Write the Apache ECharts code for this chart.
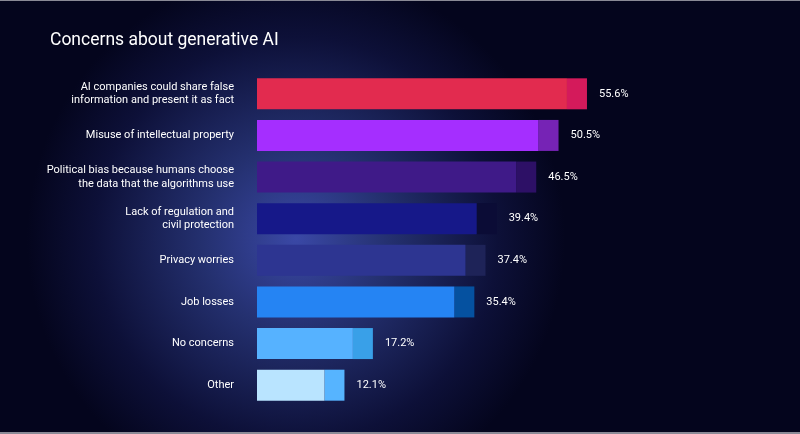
<!DOCTYPE html>
<html>
<head>
<meta charset="utf-8">
<script src="https://cdn.jsdelivr.net/npm/echarts@6/dist/echarts.min.js"></script>
<style>
  html, body { margin: 0; padding: 0; background: #04051d; }
  #chart { width: 800px; height: 434px; }
</style>
</head>
<body>
<div id="chart"></div>
<script>
// Chart data
const categories = [
  "AI companies could share false\ninformation and present it as fact",
  "Misuse of intellectual property",
  "Political bias because humans choose\nthe data that the algorithms use",
  "Lack of regulation and\ncivil protection",
  "Privacy worries",
  "Job losses",
  "No concerns",
  "Other"
];
const values = [55.6, 50.5, 46.5, 39.4, 37.4, 35.4, 17.2, 12.1];
const valueLabels = ["55.6%", "50.5%", "46.5%", "39.4%", "37.4%", "35.4%", "17.2%", "12.1%"];

// bar colours: main body and darker end cap
const mainColors = ["#e22b4f", "#a52eff", "#3f1a88", "#161889", "#2d3591", "#2584f3", "#56b2ff", "#b9e4ff"];
const capColors = ["#d41a5b", "#7623b5", "#2d1066", "#0b0c36", "#1e2358", "#0551a0", "#39a0e8", "#56b4ff"];

document.addEventListener("DOMContentLoaded", function () {
  let chartDom = document.getElementById("chart");
  let myChart = echarts.init(chartDom);

  const BAR_H = 31;
  const CAP_W = 20;
  const FONT = "Roboto, 'Open Sans', sans-serif";

  let option = {
    animation: false,
    backgroundColor: {
      type: "radial",
      x: 0.37,
      y: 0.55,
      r: 0.62,
      colorStops: [
        { offset: 0, color: "#3a48a6" },
        { offset: 0.35, color: "#24306f" },
        { offset: 0.75, color: "#0d1038" },
        { offset: 1, color: "#04051d" }
      ]
    },
    title: {
      text: "Concerns about generative AI",
      left: 50,
      top: 32,
      padding: 0,
      textStyle: {
        color: "#ffffff",
        fontFamily: FONT,
        fontSize: 17.5,
        fontWeight: "normal"
      }
    },
    grid: {
      left: 257,
      right: 97,
      top: 73,
      bottom: 28
    },
    xAxis: {
      type: "value",
      min: 0,
      max: 80,
      show: false
    },
    yAxis: {
      type: "category",
      data: categories,
      inverse: true,
      axisLine: { show: false },
      axisTick: { show: false },
      splitLine: { show: false },
      axisLabel: {
        color: "#ffffff",
        fontFamily: FONT,
        fontSize: 11,
        lineHeight: 13.5,
        margin: 23,
        align: "right"
      }
    },
    series: [
      {
        type: "bar",
        barWidth: BAR_H,
        data: values.map(function (v, i) {
          return { value: v, itemStyle: { color: mainColors[i] } };
        })
      },
      {
        type: "custom",
        encode: { x: 0, y: 1 },
        data: values.map(function (v, i) {
          return [v, i];
        }),
        renderItem: function (params, api) {
          let idx = api.value(1);
          let end = api.coord([api.value(0), idx]);
          return {
            type: "group",
            children: [
              {
                type: "rect",
                shape: { x: end[0], y: end[1] - BAR_H / 2, width: CAP_W, height: BAR_H },
                style: { fill: capColors[idx] }
              },
              {
                type: "text",
                x: end[0] + CAP_W + 12,
                y: end[1],
                style: {
                  text: valueLabels[idx],
                  fill: "#ffffff",
                  font: "11px " + FONT,
                  verticalAlign: "middle",
                  align: "left"
                }
              }
            ]
          };
        }
      }
    ],
    graphic: [
      { type: "rect", shape: { x: 0, y: 0, width: 800, height: 1 }, style: { fill: "#8a8a96" } },
      { type: "rect", shape: { x: 0, y: 432, width: 800, height: 2 }, style: { fill: "#8a8a96" } }
    ]
  };

  myChart.setOption(option);

  window.addEventListener("resize", function () {
    myChart.resize();
  });
});
</script>
</body>
</html>
